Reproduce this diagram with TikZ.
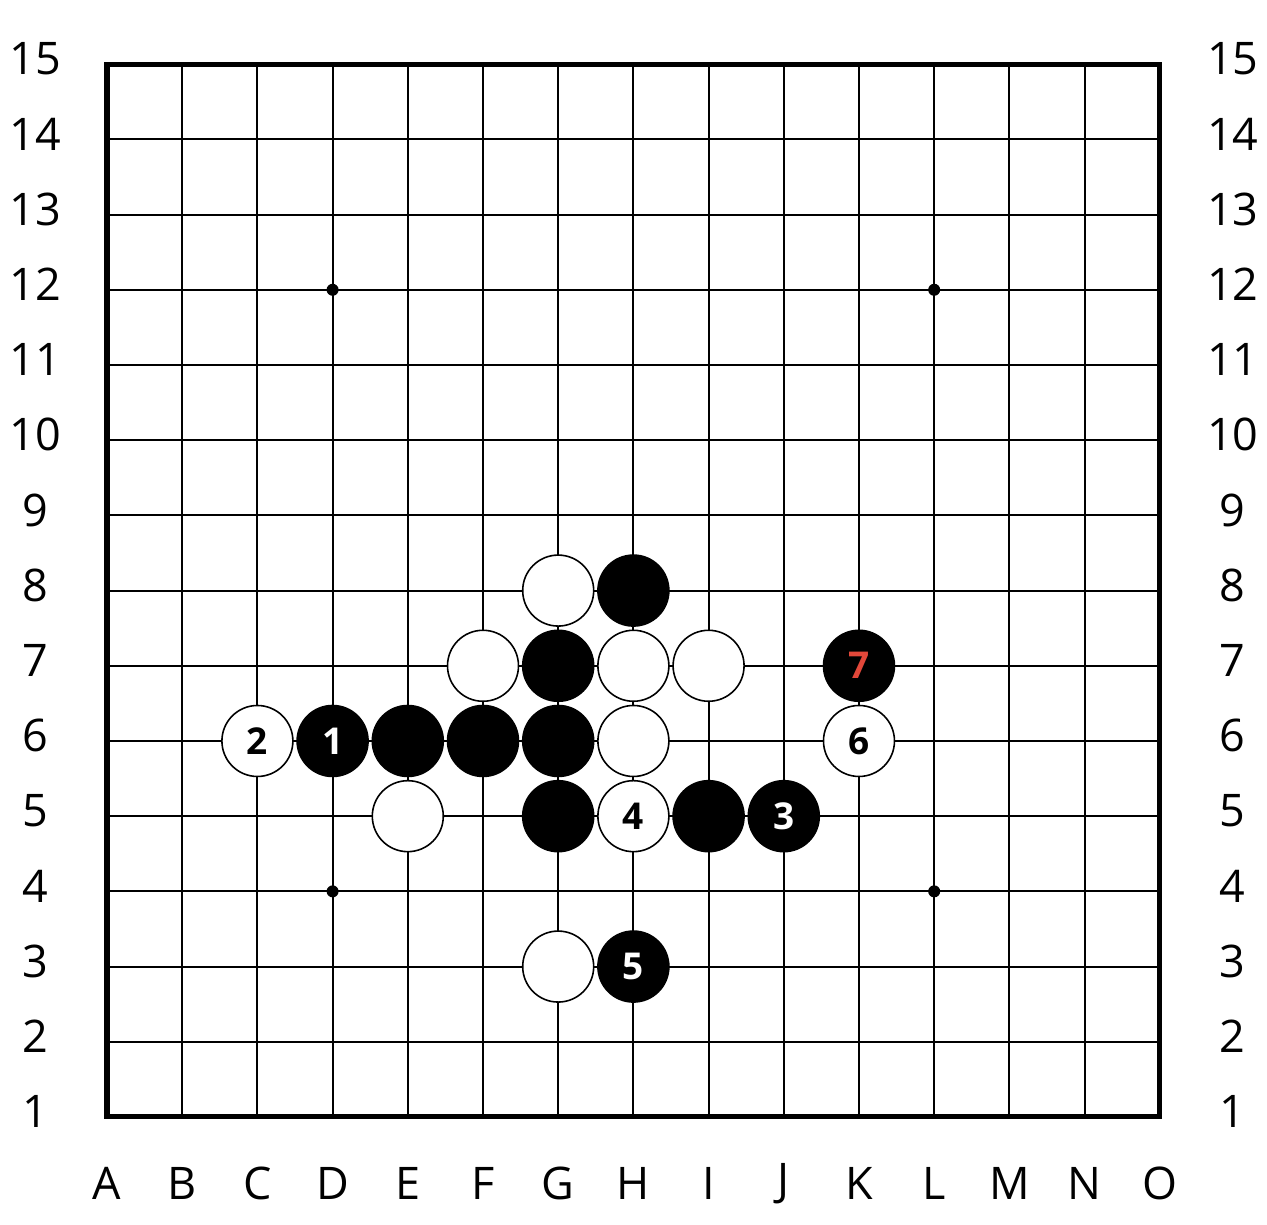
\documentclass[tikz,border=0pt]{standalone}
\usepackage{fontspec}
\setmainfont{Open Sans}
\definecolor{movered}{RGB}{226,72,58}

\begin{document}
\begin{tikzpicture}[
  grid/.style={line width=0.75pt},
  edge/.style={line width=1.9pt},
  coord/.style={font=\fontsize{17}{20}\selectfont},
  star/.style={circle, fill=black, minimum size=0.16cm, inner sep=0pt},
  stone/.style={circle, draw=black, line width=0.6pt, minimum size=0.944cm, inner sep=0pt, font=\fontsize{14}{16}\selectfont\bfseries},
  bstone/.style={stone, fill=black, text=white},
  wstone/.style={stone, fill=white, text=black}]
  \useasboundingbox (-1.423,-1.436) rectangle (15.426,14.854);
  \foreach \i in {1,...,13} {
    \draw[grid] (\i,0) -- (\i,14);
    \draw[grid] (0,\i) -- (14,\i);
  }
  \draw[edge] (0,0) rectangle (14,14);
  \foreach \l [count=\c from 0] in {A,B,C,D,E,F,G,H,I,J,K,L,M,N,O}
    \node[coord] (col-\l) at (\c,-0.89) {\l};
  \foreach \r [evaluate=\r as \y using \r-1+0.07] in {1,...,15} {
    \node[coord] (left-\r) at (-0.957,\y) {\r};
    \node[coord] (right-\r) at (14.97,\y) {\r};
  }
  \node[star] (d12) at (3,11) {};
  \node[star] (l12) at (11,11) {};
  \node[star] (d4) at (3,3) {};
  \node[star] (l4) at (11,3) {};
  % row 8
  \node[wstone] (g8) at (6,7) {};
  \node[bstone] (h8) at (7,7) {};
  % row 7
  \node[wstone] (f7) at (5,6) {};
  \node[bstone] (g7) at (6,6) {};
  \node[wstone] (h7) at (7,6) {};
  \node[wstone] (i7) at (8,6) {};
  \node[bstone, text=movered] (k7) at (10,6) {7};
  % row 6
  \node[wstone] (c6) at (2,5) {2};
  \node[bstone] (d6) at (3,5) {1};
  \node[bstone] (e6) at (4,5) {};
  \node[bstone] (f6) at (5,5) {};
  \node[bstone] (g6) at (6,5) {};
  \node[wstone] (h6) at (7,5) {};
  \node[wstone] (k6) at (10,5) {6};
  % row 5
  \node[wstone] (e5) at (4,4) {};
  \node[bstone] (g5) at (6,4) {};
  \node[wstone] (h5) at (7,4) {4};
  \node[bstone] (i5) at (8,4) {};
  \node[bstone] (j5) at (9,4) {3};
  % row 3
  \node[wstone] (g3) at (6,2) {};
  \node[bstone] (h3) at (7,2) {5};
\end{tikzpicture}
\end{document}
